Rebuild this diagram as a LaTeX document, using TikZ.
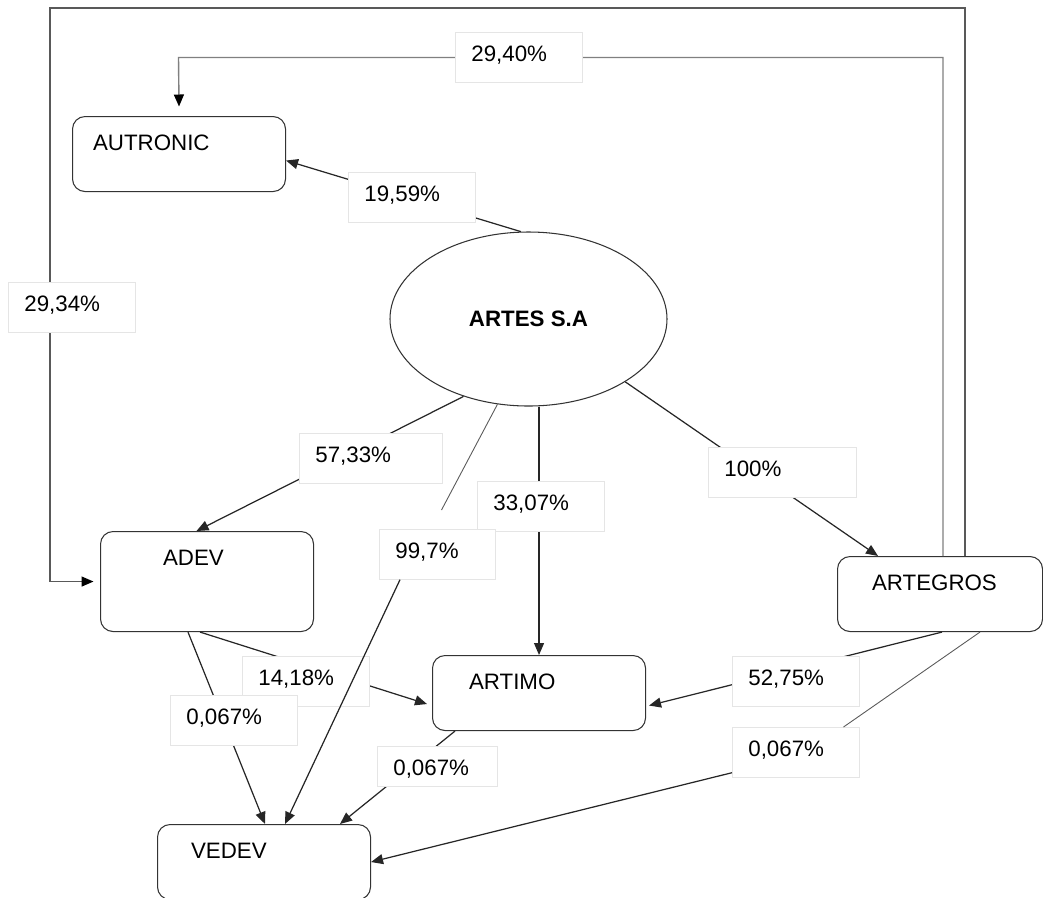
\documentclass[tikz,border=0pt]{standalone}
\usepackage{fontspec}
\setmainfont{Liberation Sans}
\usetikzlibrary{arrows.meta, shapes.geometric}

\begin{document}
\begin{tikzpicture}[
    font=\fontsize{12.7pt}{15pt}\selectfont,
    entity/.style={
        draw=black!80,
        line width=0.6pt,
        rounded corners=0.25cm,
        anchor=north west,
        align=left,
        text width=4cm,
        inner xsep=0.13cm,
        inner ysep=0.3cm,
        text height=0.37cm,
        text depth=0.53cm,
    },
    holding/.style={
        ellipse,
        draw=black!80,
        line width=0.6pt,
        minimum width=5.54cm,
        minimum height=3.48cm,
        inner sep=0pt,
        font=\fontsize{12.7pt}{15pt}\selectfont\bfseries,
    },
    lbl/.style={
        draw=black!10,
        fill=white,
        anchor=north west,
        align=left,
        text width=#1,
        inner xsep=0.32cm,
        inner ysep=0.22cm,
        text height=0.36cm,
        text depth=0.2cm,
    },
    lbl/.default=1.9cm,
    feed/.style={
        draw=black!65,
        line width=0.5pt,
    },
    link/.style={
        draw=black!85,
        line width=0.7pt,
        -{Triangle[length=0.24cm, width=0.2cm]},
    },
    loop/.style={
        draw=black!65,
        line width=0.8pt,
        -{Triangle[length=0.24cm, width=0.2cm, color=black]},
    }
]
    \useasboundingbox (0,0) rectangle (20.86,-17.94);

    % Companies
    \node[holding] (artes) at (10.57,-6.38) {ARTES S.A};
    \node[entity] (autronic) at (1.44,-2.32) {\hspace*{0.28cm}AUTRONIC};
    \node[entity, minimum height=2cm, text depth=1.03cm] (adev) at (2.0,-10.62) {\hspace*{1.12cm}ADEV};
    \node[entity, text width=3.84cm] (artegros) at (16.74,-11.12) {\hspace*{0.56cm}ARTEGROS};
    \node[entity] (artimo) at (8.64,-13.1) {\hspace*{0.6cm}ARTIMO};
    \node[entity] (vedev) at (3.14,-16.48) {\hspace*{0.54cm}VEDEV};

    % Corners of the two loops
    \coordinate (outertop) at (1.0,-0.16);
    \coordinate (innertop) at (3.57,-1.15);

    % Holdings (under the shares)
    \draw[loop] ([xshift=2.56cm]artegros.north west) |- (outertop) |- ([xshift=-0.13cm]adev.west);
    \draw[loop, draw=black!50] ([xshift=2.12cm]artegros.north west) |- (innertop) -- ([yshift=0.19cm]autronic.north);
    \draw[link] (artes.95) -- ([yshift=-0.13cm]autronic.east);
    \draw[link] (artes.230) -- ([xshift=1.93cm]adev.north west);
    \draw[link] (artimo.north |- artes.south) -- (artimo.north);
    \draw[link] (artes.327) -- ([xshift=0.82cm]artegros.north west);
    \draw[link] ([xshift=2cm]adev.south west) -- ([xshift=-0.1cm, yshift=-0.22cm]artimo.west);
    \draw[link] ([xshift=1.76cm]adev.south west) -- ([xshift=2.16cm]vedev.north west);
    \draw[link] ([xshift=0.46cm]artimo.south west) -- ([xshift=3.66cm]vedev.north west);
    \draw[link] ([xshift=2.1cm]artegros.south west) -- ([xshift=0.06cm, yshift=-0.25cm]artimo.east);

    % Shares
    \node[lbl] (l2940) at (9.1,-0.64) {29,40\%};
    \node[lbl] (l1959) at (6.96,-3.44) {19,59\%};
    \node[lbl] (l2934) at (0.16,-5.64) {29,34\%};
    \node[lbl=2.22cm] (l5733) at (5.98,-8.66) {57,33\%};
    \node[lbl] (l3307) at (9.54,-9.62) {33,07\%};
    \node[lbl=1.68cm] (l997) at (7.58,-10.58) {99,7\%};
    \node[lbl=2.32cm] (l100) at (14.16,-8.94) {100\%};
    \node[lbl] (l1418) at (4.84,-13.12) {14,18\%};
    \node[lbl] (l0067a) at (3.4,-13.9) {0,067\%};
    \node[lbl=1.76cm, text depth=0cm] (l0067b) at (7.54,-14.92) {0,067\%};
    \node[lbl] (l5275) at (14.64,-13.12) {52,75\%};
    \node[lbl] (l0067c) at (14.64,-14.54) {0,067\%};

    % Holdings that break at their share
    \draw[feed] (artes.250) -- ([xshift=1.25cm, yshift=0.38cm]l997.north west);
    \draw[link] ([xshift=0.42cm]l997.south west) -- ([xshift=2.56cm]vedev.north west);
    \draw[feed] ([xshift=2.86cm]artegros.south west) -- ([xshift=2.23cm]l0067c.north west);
    \draw[link] ([yshift=0.1cm]l0067c.south west) -- (vedev.east);
\end{tikzpicture}
\end{document}
